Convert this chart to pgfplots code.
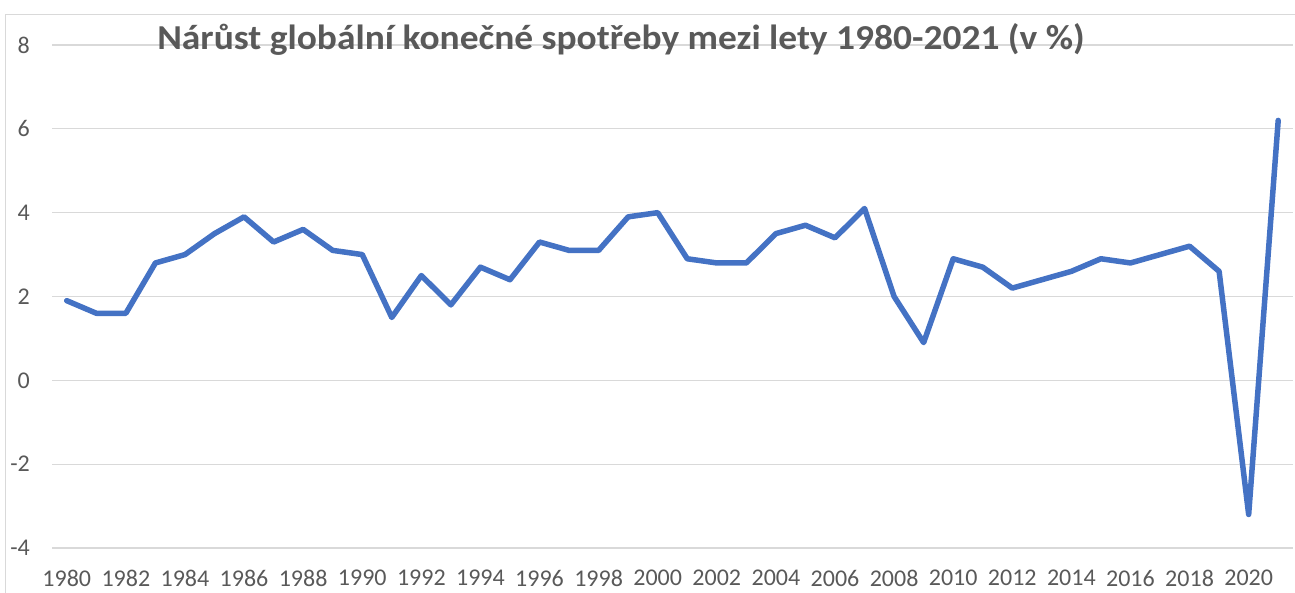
\documentclass[border=0pt]{standalone}
\usepackage{pgfplots}
\pgfplotsset{compat=1.18}
\usepackage{fontspec}
\setmainfont{Carlito}
\definecolor{linecol}{HTML}{4472C4}
\definecolor{gridcol}{HTML}{D9D9D9}
\definecolor{labcol}{HTML}{595959}
\begin{document}
\begin{tikzpicture}[x=1pt,y=1pt]
\draw[gridcol, line width=1pt] (5.5,-20) -- (5.5,577) -- (1320,577);
\begin{axis}[
  at={(52pt,44pt)}, anchor=south west,
  scale only axis, width=1241pt, height=503pt,
  xmin=1979.5, xmax=2021.5, ymin=-4, ymax=8,
  xtick={1980,1982,1984,1986,1988,1990,1992,1994,1996,1998,2000,2002,2004,2006,2008,2010,2012,2014,2016,2018,2020},
  xticklabels={1980,1982,1984,1986,1988,1990,1992,1994,1996,1998,2000,2002,2004,2006,2008,2010,2012,2014,2016,2018,2020},
  ytick={-4,-2,0,2,4,6,8},
  yticklabels={-4,-2,0,2,4,6,8},
  ymajorgrids,
  grid style={draw=gridcol, line width=1.3pt},
  axis line style={draw=none},
  major tick length=0pt,
  tick label style={font=\fontsize{24}{27}\selectfont, text=labcol},
  yticklabel style={anchor=east, inner sep=0pt, xshift=-22pt},
  xticklabel style={anchor=center, inner sep=0pt, yshift=-30pt},
  clip=false,
]
\addplot[linecol, line width=5.5pt, line join=round, line cap=round] coordinates {
(1980,1.9) (1981,1.6) (1982,1.6) (1983,2.8) (1984,3.0) (1985,3.5) (1986,3.9)
(1987,3.3) (1988,3.6) (1989,3.1) (1990,3.0) (1991,1.5) (1992,2.5) (1993,1.8)
(1994,2.7) (1995,2.4) (1996,3.3) (1997,3.1) (1998,3.1) (1999,3.9) (2000,4.0)
(2001,2.9) (2002,2.8) (2003,2.8) (2004,3.5) (2005,3.7) (2006,3.4) (2007,4.1)
(2008,2.0) (2009,0.9) (2010,2.9) (2011,2.7) (2012,2.2) (2013,2.4) (2014,2.6)
(2015,2.9) (2016,2.8) (2017,3.0) (2018,3.2) (2019,2.6) (2020,-3.2) (2021,6.2)
};
\node[font=\fontsize{35}{40}\selectfont\bfseries, text=labcol, anchor=base, inner sep=0pt, xscale=1.07]
  at (rel axis cs:0.4585,1) [yshift=-5pt] {Nárůst globální konečné spotřeby mezi lety 1980-2021 (v \%)};
\end{axis}
\pgfresetboundingbox
\path[use as bounding box] (0,0) rectangle (1295,592);
\end{tikzpicture}
\end{document}
